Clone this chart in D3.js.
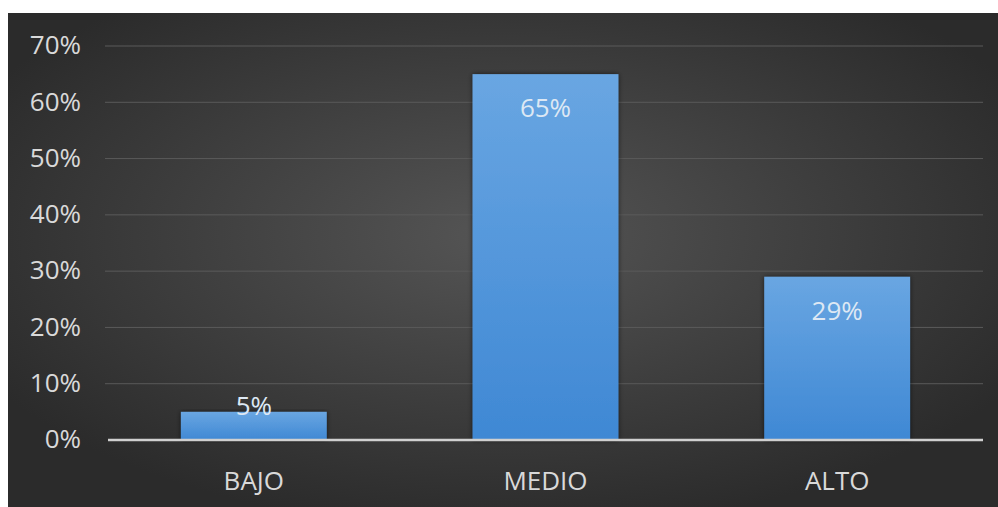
<!DOCTYPE html>
<html>
<head>
<meta charset="utf-8">
<script src="https://cdn.jsdelivr.net/npm/d3@7"></script>
<style>
  html, body { margin: 0; padding: 0; background: #ffffff; }
  svg { display: block; }
</style>
</head>
<body>
<svg id="chart" width="998" height="507"></svg>
<script>
// Category labels and their shares
const categories = ["BAJO", "MEDIO", "ALTO"];
const values = [0.05, 0.65, 0.29];
const valueLabels = ["5%", "65%", "29%"];
const yTicks = [0, 0.1, 0.2, 0.3, 0.4, 0.5, 0.6, 0.7];

const svg = d3.select("#chart");
const W = 998, H = 507;
const panel = { x: 8, y: 13, w: W - 8, h: H - 13 };
const plot = { left: 108, right: 983, top: 46, bottom: 440 };
const font = "'Open Sans', 'Noto Sans', sans-serif";
const fontSize = 26;

const defs = svg.append("defs");
const bg = defs.append("radialGradient").attr("id", "bg")
  .attr("cx", "50%").attr("cy", "45%").attr("r", "60%");
bg.append("stop").attr("offset", "0%").attr("stop-color", "#555555");
bg.append("stop").attr("offset", "100%").attr("stop-color", "#2b2b2b");

const barGrad = defs.append("linearGradient").attr("id", "barGrad")
  .attr("x1", 0).attr("y1", 0).attr("x2", 0).attr("y2", 1);
barGrad.append("stop").attr("offset", "0%").attr("stop-color", "#69a6e2");
barGrad.append("stop").attr("offset", "100%").attr("stop-color", "#3f88d4");

const shadow = defs.append("filter").attr("id", "shadow")
  .attr("x", "-10%").attr("y", "-10%").attr("width", "120%").attr("height", "120%");
shadow.append("feDropShadow").attr("dx", 0).attr("dy", 0)
  .attr("stdDeviation", 2.5).attr("flood-color", "#000").attr("flood-opacity", 0.6);

svg.append("rect")
  .attr("x", panel.x).attr("y", panel.y)
  .attr("width", panel.w).attr("height", panel.h)
  .attr("fill", "url(#bg)");

const x = d3.scaleBand().domain(categories)
  .range([plot.left, plot.right]).paddingInner(0.5).paddingOuter(0.25);
const y = d3.scaleLinear().domain([0, 0.7]).range([plot.bottom, plot.top]);

// Horizontal gridlines
svg.append("g").selectAll("line")
  .data(yTicks.filter(d => d > 0))
  .join("line")
  .attr("x1", 105).attr("x2", plot.right)
  .attr("y1", d => y(d)).attr("y2", d => y(d))
  .attr("stroke", "#5a5a5a").attr("stroke-width", 1);

// Y axis labels
const yAxis = d3.axisLeft(y).tickValues(yTicks)
  .tickFormat(d3.format(".0%")).tickSize(0).tickPadding(0);
svg.append("g")
  .attr("transform", `translate(81,0)`)
  .call(yAxis)
  .call(g => g.select(".domain").remove())
  .call(g => g.selectAll("text")
    .attr("dy", "0.3em")
    .attr("fill", "#d9d9d9").attr("font-size", fontSize).attr("font-family", font));

// Bars
svg.append("g").selectAll("rect")
  .data(values)
  .join("rect")
  .attr("x", (d, i) => x(categories[i]))
  .attr("y", d => y(d))
  .attr("width", x.bandwidth())
  .attr("height", d => y(0) - y(d))
  .attr("fill", "url(#barGrad)")
  .attr("filter", "url(#shadow)");

// Baseline
svg.append("line")
  .attr("x1", plot.left).attr("x2", plot.right)
  .attr("y1", y(0)).attr("y2", y(0))
  .attr("stroke", "#d0d0d0").attr("stroke-width", 2.5);

// Value labels inside the bar ends
svg.append("g").selectAll("text")
  .data(values)
  .join("text")
  .attr("x", (d, i) => x(categories[i]) + x.bandwidth() / 2)
  .attr("y", d => Math.min(y(d) + 43, y(0) - 25))
  .attr("text-anchor", "middle")
  .attr("fill", "#dde8f4").attr("font-size", fontSize).attr("font-family", font)
  .text((d, i) => valueLabels[i]);

// X axis category labels
const xAxis = d3.axisBottom(x).tickSize(0).tickPadding(0);
svg.append("g")
  .attr("transform", `translate(0,${plot.bottom + 50})`)
  .call(xAxis)
  .call(g => g.select(".domain").remove())
  .call(g => g.selectAll("text")
    .attr("dy", 0)
    .attr("fill", "#d9d9d9").attr("font-size", fontSize).attr("font-family", font));
</script>
</body>
</html>
